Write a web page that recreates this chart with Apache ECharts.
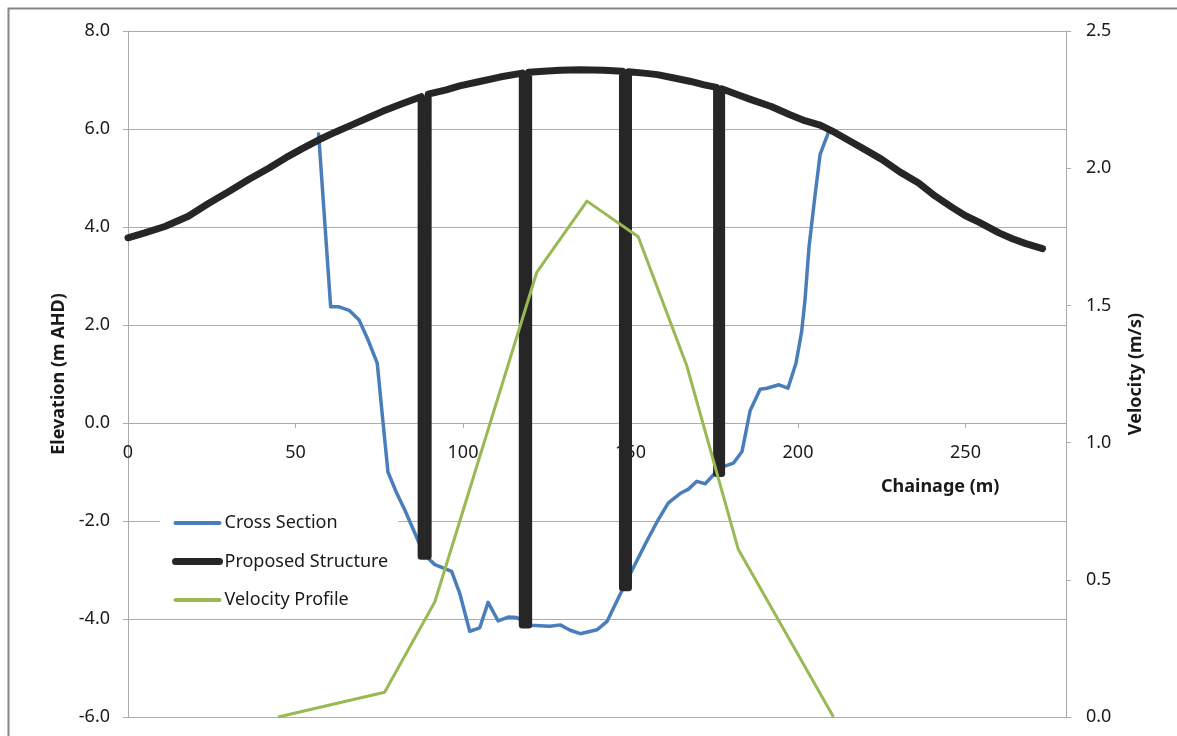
<!DOCTYPE html>
<html>
<head>
<meta charset="utf-8">
<script src="https://cdn.jsdelivr.net/npm/echarts@6/dist/echarts.min.js"></script>
<style>
html,body{margin:0;padding:0;background:#fff;}
#chart{width:1177px;height:736px;}
</style>
</head>
<body>
<div id="chart"></div>
<script>
// ---- data ----
const seriesNames = ['Cross Section', 'Proposed Structure', 'Velocity Profile'];

// Cross Section: [chainage (m), elevation (m AHD)]
const crossSection = [
  [56.9,5.9],[60.5,2.37],[63,2.37],[66,2.3],[69,2.1],[71.5,1.72],[74.4,1.22],[76,0.1],[77.6,-1.0],
  [80.2,-1.43],[82.6,-1.77],[87.1,-2.48],[89.6,-2.76],[91.6,-2.89],[96.6,-3.03],[99,-3.47],
  [102,-4.25],[105,-4.18],[107.5,-3.66],[110.5,-4.04],[113.5,-3.96],[116,-3.97],[120,-4.13],
  [126,-4.15],[129,-4.12],[132,-4.23],[135,-4.3],[140,-4.22],[143,-4.05],[145.4,-3.71],
  [148.3,-3.3],[150.8,-2.96],[154.8,-2.42],[158.3,-1.97],[161.3,-1.63],[164.8,-1.44],
  [167.3,-1.35],[169.8,-1.19],[172.3,-1.24],[175.7,-0.99],[177.7,-0.89],[180.7,-0.82],
  [183.3,-0.58],[185.7,0.25],[188.7,0.69],[190.7,0.71],[194.3,0.78],[197,0.71],[199.4,1.22],
  [201.1,1.87],[202.1,2.52],[203.3,3.6],[205,4.6],[206.6,5.48],[209.2,5.95]
];

// Proposed Structure: deck profile with piers (down and back up)
const proposedStructure = [
  [0,3.78],[5,3.88],[11,4.01],[18,4.22],[24,4.48],[30,4.72],[36,4.97],[42,5.2],[47,5.41],
  [52,5.6],[57,5.78],[62,5.94],[67,6.09],[72,6.24],[76,6.36],[82,6.52],[87.5,6.66],
  [87.5,-2.72],[89.6,-2.72],[89.6,6.71],
  [95,6.8],[99,6.88],[105,6.97],[111,7.06],[117.7,7.14],
  [117.7,-4.12],[119.6,-4.12],[119.6,7.16],
  [124,7.18],[129,7.2],[135,7.21],[142,7.2],[147.6,7.18],
  [147.6,-3.36],[149.4,-3.36],[149.4,7.17],
  [154,7.14],[158,7.11],[163,7.04],[168,6.97],[172,6.9],[175.7,6.85],
  [175.7,-1.03],[177.2,-1.03],[177.2,6.82],
  [182,6.7],[186,6.6],[192,6.46],[197.6,6.29],[202,6.17],[206.6,6.08],[211,5.93],
  [215.6,5.75],[220,5.58],[225,5.38],[230.5,5.12],[236,4.9],[241,4.63],[246,4.4],
  [250,4.23],[254,4.1],[260,3.88],[264,3.76],[268,3.66],[273,3.56]
];

// Velocity Profile: [chainage (m), velocity (m/s)]
const velocityProfile = [
  [44.8,0],[76.6,0.09],[91.6,0.42],[122,1.62],[137,1.88],[152.3,1.75],[166.8,1.28],[182.2,0.61],[210.6,0]
];

const xAxisTitle = 'Chainage (m)';
const leftAxisTitle = 'Elevation (m AHD)';
const rightAxisTitle = 'Velocity (m/s)';

const FONT = 'Noto Sans';
const TXT = '#1a1a1a';
const GRID = '#ababab';
const COLORS = ['#4a7ebb', '#262626', '#98b954'];
const WIDTHS = [3.5, 7, 3];

const Y_MIN = -6, Y_MAX = 8, GRID_H = 686;
// x axis crosses the elevation axis at 0: shift it up from the bottom edge
const xAxisOffset = -GRID_H * (0 - Y_MIN) / (Y_MAX - Y_MIN);

const chart = echarts.init(document.getElementById('chart'), null, {renderer: 'canvas'});
chart.setOption({
  backgroundColor: '#ffffff',
  animation: false,
  textStyle: {fontFamily: FONT},
  grid: {left: 128, top: 31, width: 938, height: GRID_H, containLabel: false, outerBoundsMode: 'none'},
  legend: {
    orient: 'vertical',
    left: 160, top: 506,
    padding: [8, 10, 6, 12],
    backgroundColor: '#ffffff',
    itemWidth: 44, itemHeight: 14, itemGap: 20.5,
    textStyle: {fontFamily: FONT, fontSize: 18, color: TXT},
    itemStyle: {color: 'rgba(0,0,0,0)', borderWidth: 0, borderColor: 'rgba(0,0,0,0)'},
    data: seriesNames.map((n, i) => ({
      name: n,
      itemStyle: {color: 'rgba(0,0,0,0)', borderWidth: 0, borderColor: 'rgba(0,0,0,0)'},
      lineStyle: {color: COLORS[i], width: i === 1 ? 7 : 4, cap: 'round'}
    }))
  },
  xAxis: {
    type: 'value', min: 0, max: 280, interval: 50, position: 'bottom', offset: xAxisOffset,
    axisLine: {show: true, onZero: false, lineStyle: {color: GRID, width: 1}},
    axisTick: {show: true, length: 5, lineStyle: {color: GRID}},
    axisLabel: {show: true, fontSize: 18, color: TXT, margin: 21, fontFamily: FONT,
      formatter: v => v <= 250 ? String(v) : ''},
    splitLine: {show: false}
  },
  yAxis: [
    {
      type: 'value', min: Y_MIN, max: Y_MAX, interval: 2, position: 'left',
      name: leftAxisTitle, nameLocation: 'middle', nameRotate: 90, nameGap: 58,
      nameTextStyle: {fontSize: 18, fontWeight: 'bold', color: TXT, fontFamily: FONT},
      axisLine: {show: true, onZero: false, lineStyle: {color: GRID}},
      axisTick: {show: true, length: 5, lineStyle: {color: GRID}},
      axisLabel: {fontSize: 18, color: TXT, margin: 18, fontFamily: FONT, formatter: v => v.toFixed(1)},
      splitLine: {show: true, lineStyle: {color: GRID, width: 1}}
    },
    {
      type: 'value', min: 0, max: 2.5, interval: 0.5, position: 'right',
      name: rightAxisTitle, nameLocation: 'middle', nameRotate: 90, nameGap: 61,
      nameTextStyle: {fontSize: 18, fontWeight: 'bold', color: TXT, fontFamily: FONT},
      axisLine: {show: true, onZero: false, lineStyle: {color: GRID}},
      axisTick: {show: true, length: 5, lineStyle: {color: GRID}},
      axisLabel: {fontSize: 18, color: TXT, margin: 20, fontFamily: FONT, formatter: v => v.toFixed(1)},
      splitLine: {show: false}
    }
  ],
  graphic: [
    {type: 'rect', left: 6, top: 6, z: -10, silent: true,
      shape: {x: 0, y: 0, width: 1300, height: 900},
      style: {fill: 'none', stroke: '#868686', lineWidth: 2}},
    {type: 'text', left: 881, top: 478, silent: true,
      style: {text: xAxisTitle, font: 'bold 18px "Noto Sans"', fill: TXT}}
  ],
  series: [
    {
      name: seriesNames[0], type: 'line', yAxisIndex: 0, data: crossSection,
      symbol: 'none', smooth: false,
      lineStyle: {color: COLORS[0], width: WIDTHS[0], join: 'round', cap: 'round'},
      itemStyle: {color: COLORS[0]}, z: 2
    },
    {
      name: seriesNames[1], type: 'line', yAxisIndex: 0, data: proposedStructure,
      symbol: 'none', smooth: false,
      lineStyle: {color: COLORS[1], width: WIDTHS[1], join: 'round', cap: 'round'},
      itemStyle: {color: COLORS[1]}, z: 3
    },
    {
      name: seriesNames[2], type: 'line', yAxisIndex: 1, data: velocityProfile,
      symbol: 'none', smooth: false,
      lineStyle: {color: COLORS[2], width: WIDTHS[2], join: 'round'},
      itemStyle: {color: COLORS[2]}, z: 4
    }
  ]
});
</script>
</body>
</html>
